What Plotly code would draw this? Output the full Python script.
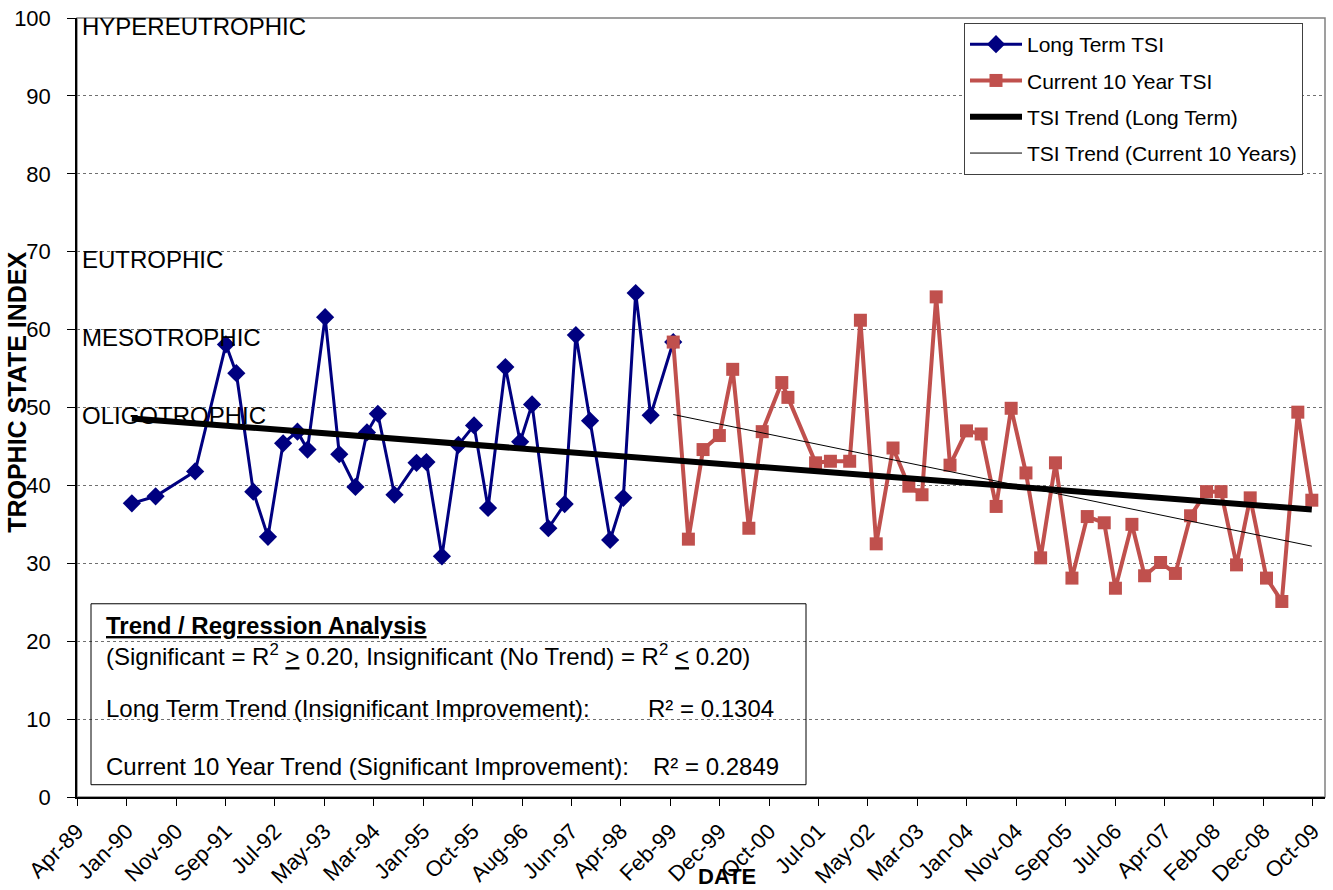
import plotly.graph_objects as go

# ---------------- data ----------------
long_term_dates = [
    "1990-03-01", "1990-07-23", "1991-03-20", "1991-09-23", "1991-11-25",
    "1992-03-07", "1992-06-04", "1992-09-04", "1992-11-30", "1993-01-30",
    "1993-05-17", "1993-08-11", "1993-11-17", "1994-01-26", "1994-04-02",
    "1994-07-12", "1994-11-23", "1995-01-22", "1995-04-26", "1995-08-04",
    "1995-11-07", "1996-01-31", "1996-05-15", "1996-08-13", "1996-10-24",
    "1997-01-31", "1997-05-10", "1997-07-17", "1997-10-11", "1998-02-10",
    "1998-05-01", "1998-07-15", "1998-10-14", "1999-02-28",
]
long_term_tsi = [
    37.7, 38.6, 41.8, 58.1, 54.4,
    39.2, 33.4, 45.4, 46.9, 44.6,
    61.6, 44.0, 39.8, 46.8, 49.2,
    38.8, 42.9, 43.0, 30.9, 45.2,
    47.7, 37.1, 55.2, 45.6, 50.4,
    34.5, 37.6, 59.3, 48.3, 33.0,
    38.4, 64.7, 49.0, 58.4,
]

current_dates = [
    "1999-02-28", "1999-05-31", "1999-08-28", "1999-12-05", "2000-02-24",
    "2000-06-01", "2000-08-21", "2000-12-18", "2001-01-24", "2001-07-11",
    "2001-10-09", "2002-02-03", "2002-04-09", "2002-07-14", "2002-10-24",
    "2003-01-28", "2003-04-18", "2003-07-13", "2003-10-05", "2004-01-13",
    "2004-04-11", "2004-07-11", "2004-10-10", "2005-01-08", "2005-04-07",
    "2005-07-06", "2005-10-14", "2006-01-15", "2006-04-28", "2006-07-05",
    "2006-10-13", "2006-12-29", "2007-04-05", "2007-07-04", "2007-10-04",
    "2008-01-09", "2008-04-06", "2008-07-09", "2008-09-30", "2009-01-07",
    "2009-04-10", "2009-07-16", "2009-10-09",
]
current_tsi = [
    58.4, 33.1, 44.6, 46.4, 54.9,
    34.5, 46.9, 53.2, 51.3, 42.9,
    43.1, 43.1, 61.2, 32.5, 44.8,
    39.9, 38.8, 64.2, 42.6, 47.0,
    46.6, 37.3, 49.9, 41.6, 30.7,
    42.9, 28.1, 36.0, 35.2, 26.8,
    35.0, 28.4, 30.1, 28.7, 36.1,
    39.2, 39.2, 29.8, 38.4, 28.1,
    25.1, 49.4, 38.1,
]

long_trend_dates = ["1990-03-01", "2009-10-09"]
long_trend_vals = [48.6, 36.9]
ten_trend_dates = ["1999-02-28", "2009-10-09"]
ten_trend_vals = [49.1, 32.2]

zone_labels = ["HYPEREUTROPHIC", "EUTROPHIC", "MESOTROPHIC", "OLIGOTROPHIC"]
zone_values = [100, 70, 60, 50]

x_range = ["1989-04-02", "2009-12-28"]
tick_start = "1989-04-03"
tick_step_days = 300

FONT = "Liberation Sans, Arial, sans-serif"

W, H = 1333, 890
PX_L, PX_R, PX_T, PX_B = 77, 1325, 18, 797.3
PW, PH = PX_R - PX_L, PX_B - PX_T


def px(x):
    return (x - PX_L) / PW


def py(y):
    return (PX_B - y) / PH


fig = go.Figure()

fig.add_trace(go.Scatter(
    x=long_term_dates, y=long_term_tsi, mode="lines+markers",
    name="Long Term TSI", legendgroup="a",
    line=dict(color="#000080", width=3),
    marker=dict(symbol="diamond", size=14, color="#000080"),
))
fig.add_trace(go.Scatter(
    x=current_dates, y=current_tsi, mode="lines+markers",
    name="Current 10 Year TSI", legendgroup="b",
    line=dict(color="#C0504D", width=4),
    marker=dict(symbol="square", size=13, color="#C0504D"),
))
fig.add_trace(go.Scatter(
    x=long_trend_dates, y=long_trend_vals, mode="lines",
    name="TSI Trend (Long Term)", legendgroup="c",
    line=dict(color="black", width=6),
))
fig.add_trace(go.Scatter(
    x=ten_trend_dates, y=ten_trend_vals, mode="lines",
    name="TSI Trend (Current 10 Years)", legendgroup="d",
    line=dict(color="black", width=1),
))

annotations = []
for lab, val in zip(zone_labels, zone_values):
    annotations.append(dict(
        text=lab, xref="paper", yref="y", x=px(80), y=val,
        xanchor="left", yanchor="middle", yshift=-8, showarrow=False,
        font=dict(family=FONT, size=24, color="black"),
    ))

box_font = dict(family=FONT, size=24, color="black")
box_lines = [
    ("<b><u>Trend / Regression Analysis</u></b>", 104, 626),
    ("(Significant = R<sup>2</sup> <u>&gt;</u> 0.20, Insignificant (No Trend) = R<sup>2</sup> <u>&lt;</u> 0.20)", 104, 655),
    ("Long Term Trend (Insignificant Improvement):", 104, 709),
    ("R² = 0.1304", 646, 709),
    ("Current 10 Year Trend (Significant Improvement):", 104, 767),
    ("R² = 0.2849", 651, 767),
]
for txt, xpx, ypx in box_lines:
    annotations.append(dict(
        text=txt, xref="paper", yref="paper", x=px(xpx), y=py(ypx),
        xanchor="left", yanchor="middle", showarrow=False, font=box_font,
    ))

annotations.append(dict(
    text="<b>TROPHIC STATE INDEX</b>", xref="paper", yref="paper",
    x=px(17), y=py(393), textangle=-90,
    xanchor="center", yanchor="middle", showarrow=False,
    font=dict(family=FONT, size=25, color="black"),
))
annotations.append(dict(
    text="<b>DATE</b>", xref="paper", yref="paper",
    x=px(727), y=py(877),
    xanchor="center", yanchor="middle", showarrow=False,
    font=dict(family=FONT, size=22, color="black"),
))

shapes = [
    dict(type="rect", xref="paper", yref="paper", x0=0, x1=1, y0=0, y1=1,
         line=dict(color="#808080", width=1.5), layer="below"),
    dict(type="rect", xref="paper", yref="paper",
         x0=px(91), x1=px(806), y0=py(785), y1=py(604),
         line=dict(color="black", width=1), layer="above"),
]

fig.update_layout(
    width=W, height=H,
    margin=dict(l=PX_L, r=W - PX_R, t=PX_T, b=H - PX_B, autoexpand=False),
    paper_bgcolor="white", plot_bgcolor="white",
    font=dict(family=FONT, size=22, color="black"),
    showlegend=True,
    legend=dict(
        x=px(964), y=py(23),
        xanchor="left", yanchor="top",
        bgcolor="white", bordercolor="#404040", borderwidth=1,
        font=dict(family=FONT, size=21, color="black"),
        tracegroupgap=6, traceorder="grouped", itemwidth=52,
    ),
    annotations=annotations,
    shapes=shapes,
    xaxis=dict(
        type="date", range=x_range, automargin=False,
        tick0=tick_start, dtick=tick_step_days * 86400000,
        tickformat="%b-%y", tickangle=-45,
        ticks="outside", ticklen=7, tickcolor="black",
        showline=True, linecolor="black", linewidth=1.5,
        showgrid=False, zeroline=False,
        tickfont=dict(family=FONT, size=22),
        ticklabelstandoff=4, ticklabeloverflow="allow",
    ),
    yaxis=dict(
        range=[0, 100], tick0=0, dtick=10, automargin=False,
        ticks="outside", ticklen=8, tickcolor="black",
        showline=True, linecolor="black", linewidth=1.5,
        showgrid=True, gridcolor="#707070", griddash="dot", gridwidth=1,
        zeroline=False,
        tickfont=dict(family=FONT, size=22),
        ticklabelstandoff=12, ticklabeloverflow="allow",
    ),
)

fig.write_html(
    "out.html",
    config={"displayModeBar": False},
    post_script=(
        "document.documentElement.style.margin='0';"
        "document.body.style.margin='0';"
        "document.documentElement.style.overflow='hidden';"
        "document.body.style.overflow='hidden';"
    ),
)
